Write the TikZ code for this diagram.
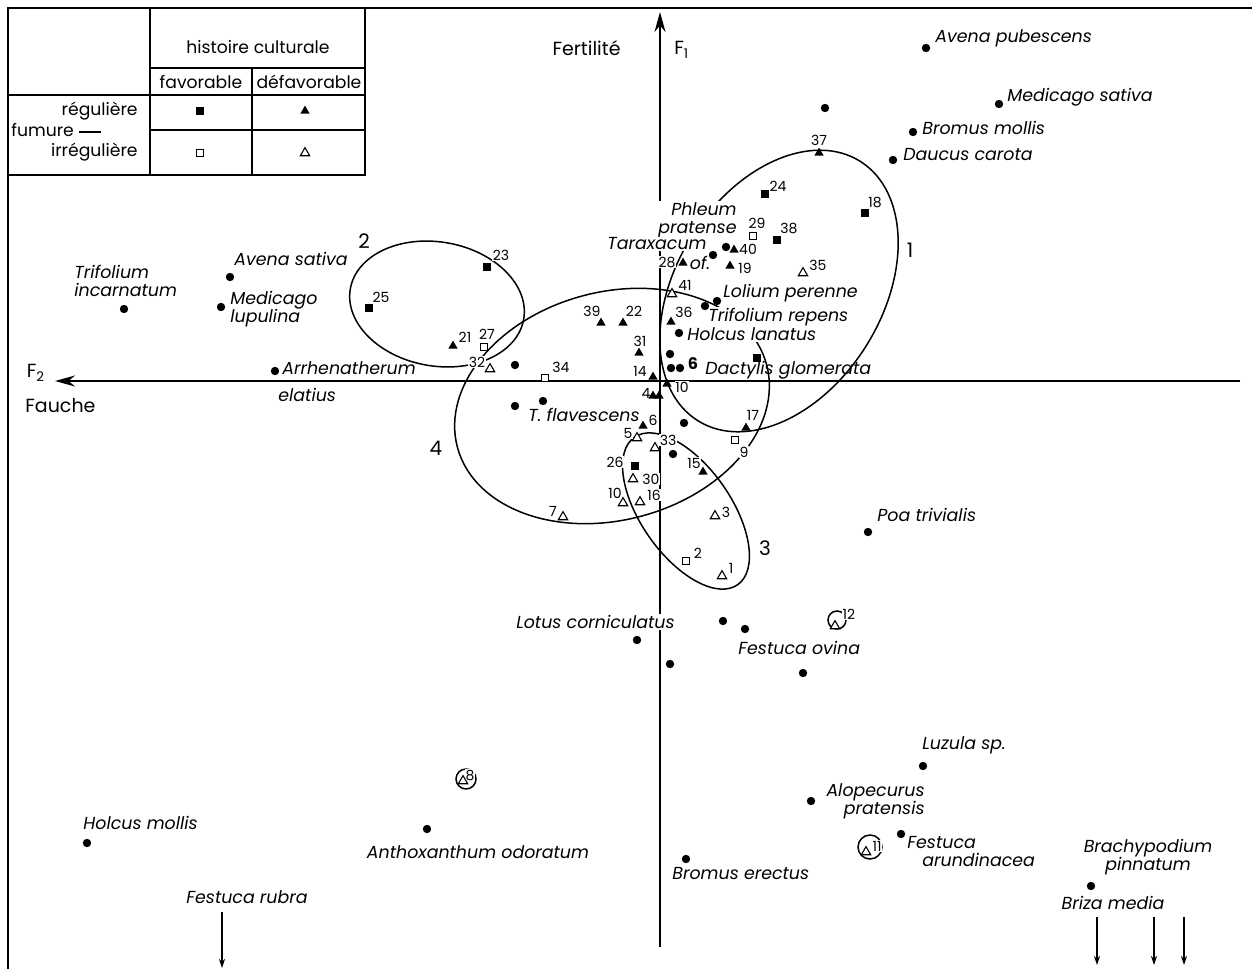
\documentclass[tikz,border=0pt]{standalone}
\usepackage{fontspec}
\setmainfont{Poppins}
\usetikzlibrary{arrows.meta,shapes,backgrounds,positioning}

\begin{document}
\begin{tikzpicture}[x=0.5pt,y=-0.5pt,>={Stealth[length=10pt,width=5.5pt]}]
  \tikzstyle{pt}=[circle,fill=black,inner sep=0pt,minimum size=4.2pt]
  \tikzstyle{sq}=[rectangle,fill=black,inner sep=0pt,minimum size=3.8pt]
  \tikzstyle{osq}=[rectangle,draw=black,line width=0.55pt,fill=white,inner sep=0pt,minimum size=3.6pt]
  \tikzstyle{tri}=[regular polygon,regular polygon sides=3,fill=black,inner sep=0pt,minimum size=5.4pt]
  \tikzstyle{otri}=[regular polygon,regular polygon sides=3,draw=black,line width=0.55pt,fill=white,inner sep=0pt,minimum size=5.4pt]
  \tikzstyle{num}=[font=\fontsize{7}{7}\selectfont,fill=white,inner sep=0.3pt]
  \tikzstyle{sp}=[font=\fontsize{8.7}{9}\selectfont\itshape,fill=white,inner sep=0.5pt]
  \tikzstyle{spclear}=[font=\fontsize{8.7}{9}\selectfont\itshape,inner sep=0.5pt]
  \tikzstyle{txt}=[font=\fontsize{8.6}{10}\selectfont,inner sep=0.5pt]
  \tikzstyle{grp}=[font=\fontsize{10}{11}\selectfont,inner sep=0.5pt]
  \tikzstyle{axis}=[line width=1pt,->]
  \tikzstyle{ring}=[line width=0.75pt]
  \tikzstyle{tab}=[line width=0.75pt]
  \tikzstyle{down}=[line width=0.8pt,-{Stealth[length=4.5pt,width=3pt]}]

  \useasboundingbox (0,0) rectangle (1252,969);

  % frame and table
  \coordinate (frtr) at (1252,8);
  \coordinate (frbl) at (8,969);
  \draw[tab] (frtr) -| (frbl);
  \coordinate (ttl) at (8,8);
  \coordinate (tbr) at (365,175);
  \draw[tab] (ttl) rectangle (tbr);
  \draw[tab] (150,8) -- (150,175);
  \draw[tab] (252,68) -- (252,175);
  \draw[tab] (150,68) -- (365,68);
  \draw[tab] (8,95) -- (365,95);
  \draw[tab] (150,130) -- (365,130);
  \draw[tab] (79,132) -- (101,132);
  \node[txt] (histoire) at (258,47) {histoire culturale};
  \node[txt] (fav) at (201,82) {favorable};
  \node[txt] (defav) at (309,82) {défavorable};
  \node[txt,anchor=east] (reg) at (139,111) {régulière};
  \node[txt,anchor=west] (fum) at (10,130) {fumure};
  \node[txt,anchor=east] (irreg) at (139,152) {irrégulière};
  \node[sq] (keysq) at (200,111) {};
  \node[tri] (keytri) at (305,111) {};
  \node[osq] (keyosq) at (200,153) {};
  \node[otri] (keyotri) at (305,153) {};

  % axes
  \coordinate (f1bot) at (660,947);
  \coordinate (f1top) at (660,12);
  \coordinate (f2right) at (1240,381);
  \coordinate (f2left) at (55,381);
  \node[txt,anchor=east,font=\fontsize{9.5}{10}\selectfont] (fert) at (622,48) {Fertilité};
  \node[txt,anchor=west,font=\fontsize{9.5}{10}\selectfont] (fone) at (673,50) {F\textsubscript{1}};
  \node[txt,font=\fontsize{9.5}{10}\selectfont] (ftwo) at (36,373) {F\textsubscript{2}};
  \node[txt,anchor=west,font=\fontsize{9.5}{10}\selectfont] (fauche) at (24,406) {Fauche};

  % species
  \node[sp,anchor=west] (avpub) at (934,38) {Avena pubescens};
  \node[sp,anchor=west] (medsat) at (1006,97) {Medicago sativa};
  \node[sp,anchor=west] (brmol) at (921,128) {Bromus mollis};
  \node[sp,anchor=west] (daucar) at (902,155) {Daucus carota};
  \node[sp,anchor=east,align=right] (phleum) at (738,220) {Phleum\\pratense};
  \node[sp] (tarax) at (657,244) {Taraxacum};
  \node[sp] (taraxof) at (700,263) {of.};
  \node[sp,anchor=west] (lolium) at (722,293) {Lolium perenne};
  \node[sp,anchor=west] (trirep) at (707,317) {Trifolium repens};
  \node[sp,anchor=west] (holcla) at (686,334) {Holcus lanatus};
  \node[spclear,anchor=west] (dactyl) at (704,370) {Dactylis glomerata};
  \node[sp,anchor=west] (tflav) at (527,415) {T. flavescens};
  \node[spclear,anchor=west] (arrhen) at (281,368) {Arrhenatherum};
  \node[spclear,anchor=west] (arrhenb) at (277,395) {elatius};
  \node[sp,anchor=west,align=left] (trinc) at (73,281) {Trifolium\\incarnatum};
  \node[sp,anchor=west] (avsat) at (233,259) {Avena sativa};
  \node[sp,anchor=west,align=left] (medlup) at (229,309) {Medicago\\lupulina};
  \node[sp,anchor=west] (poa) at (876,515) {Poa trivialis};
  \node[sp,anchor=east] (lotus) at (676,622) {Lotus corniculatus};
  \node[sp,anchor=west] (festov) at (737,648) {Festuca ovina};
  \node[sp,anchor=west] (luzula) at (921,745) {Luzula sp.};
  \node[sp,anchor=east,align=right] (alop) at (926,801) {Alopecurus\\pratensis};
  \node[sp,anchor=west] (festar) at (906,843) {Festuca};
  \node[sp,anchor=west] (festarb) at (921,860) {arundinacea};
  \node[sp,align=center] (brachy) at (1148,857) {Brachypodium\\pinnatum};
  \node[sp] (briza) at (1113,903) {Briza media};
  \node[sp,anchor=west] (bromer) at (671,874) {Bromus erectus};
  \node[sp,anchor=west] (holcmol) at (82,823) {Holcus mollis};
  \node[sp] (anthox) at (478,852) {Anthoxanthum odoratum};
  \node[sp] (festrub) at (247,897) {Festuca rubra};

  % group numbers
  \node[grp] (grpone) at (910,250) {1};
  \node[grp] (grptwo) at (364,241) {2};
  \node[grp] (grpthree) at (765,548) {3};
  \node[grp] (grpfour) at (436,448) {4};

  % site numbers
  \node[num] (n37) at (819,140) {37};
  \node[num] (n40) at (748,249) {40};
  \node[num] (n28) at (667,262) {28};
  \node[num] (n19) at (745,268) {19};
  \node[num] (n36) at (684,312) {36};
  \node[num] (n39) at (592,311) {39};
  \node[num] (n22) at (634,311) {22};
  \node[num] (n31) at (640,341) {31};
  \node[num] (n14) at (640,371) {14};
  \node[num] (n10) at (682,387) {10};
  \node[num] (n4) at (646,393) {4};
  \node[num] (n21) at (465,337) {21};
  \node[num] (n6) at (653,420) {6};
  \node[num] (n15) at (694,463) {15};
  \node[num] (n17) at (753,415) {17};
  \node[num] (n24) at (778,186) {24};
  \node[num] (n18) at (875,202) {18};
  \node[num] (n38) at (789,228) {38};
  \node[num] (n23) at (501,255) {23};
  \node[num] (n25) at (381,297) {25};
  \node[num] (n26) at (615,462) {26};
  \node[num] (n29) at (757,223) {29};
  \node[num] (n27) at (487,334) {27};
  \node[num] (n34) at (561,367) {34};
  \node[num] (n9) at (744,452) {9};
  \node[num] (n2) at (698,553) {2};
  \node[num] (n35) at (818,265) {35};
  \node[num] (n41) at (685,285) {41};
  \node[num] (n32) at (477,362) {32};
  \node[num] (n5) at (628,433) {5};
  \node[num] (n33) at (668,440) {33};
  \node[num] (n30) at (651,479) {30};
  \node[num] (n10b) at (615,493) {10};
  \node[num] (n16) at (654,495) {16};
  \node[num] (n7) at (553,511) {7};
  \node[num] (n3) at (726,512) {3};
  \node[num] (n1) at (731,568) {1};
  \node[num] (n12) at (849,614) {12};
  \node[num] (n11) at (877,846) {11};
  \node[num] (n8) at (470,775) {8};
  \node[font=\fontsize{8}{8}\selectfont\bfseries,inner sep=0pt] (six) at (693,364) {6};

  % species dots
  \node[pt] (pavpub) at (926,48) {};
  \node[pt] (pmedsat) at (999,104) {};
  \node[pt] (pbrmol) at (913,132) {};
  \node[pt] (pdaucar) at (893,160) {};
  \node[pt] (ptop) at (825,108) {};
  \node[pt] (pphleum) at (726,247) {};
  \node[pt] (ptarax) at (713,255) {};
  \node[pt] (plolium) at (717,301) {};
  \node[pt] (ptrirep) at (705,306) {};
  \node[pt] (pholcla) at (679,333) {};
  \node[pt] (pa) at (670,354) {};
  \node[pt] (pb) at (671,368) {};
  \node[pt] (pc) at (680,368) {};
  \node[pt] (pd) at (515,365) {};
  \node[pt] (ptflav) at (543,401) {};
  \node[pt] (pe) at (515,406) {};
  \node[pt] (pf) at (684,423) {};
  \node[pt] (pg) at (673,454) {};
  \node[pt] (parrhen) at (275,371) {};
  \node[pt] (ptrinc) at (124,309) {};
  \node[pt] (pavsat) at (230,277) {};
  \node[pt] (pmedlup) at (221,307) {};
  \node[pt] (ppoa) at (868,532) {};
  \node[pt] (plotus) at (637,640) {};
  \node[pt] (ph) at (723,621) {};
  \node[pt] (pfestov) at (745,629) {};
  \node[pt] (pi) at (670,664) {};
  \node[pt] (pj) at (803,673) {};
  \node[pt] (pluzula) at (923,766) {};
  \node[pt] (palop) at (811,801) {};
  \node[pt] (pfestar) at (901,834) {};
  \node[pt] (pbrachy) at (1091,886) {};
  \node[pt] (pbromer) at (686,859) {};
  \node[pt] (pholcmol) at (87,843) {};
  \node[pt] (panthox) at (427,829) {};

  % sites
  \node[sq] (s24) at (765,194) {};
  \node[sq] (s18) at (865,213) {};
  \node[sq] (s38) at (777,240) {};
  \node[sq] (s23) at (487,267) {};
  \node[sq] (s25) at (369,308) {};
  \node[sq] (s26) at (635,466) {};
  \node[sq] (sx) at (757,358) {};
  \node[osq] (o29) at (753,236) {};
  \node[osq] (o27) at (484,347) {};
  \node[osq] (o34) at (545,378) {};
  \node[osq] (o9) at (735,440) {};
  \node[osq] (o2) at (686,561) {};
  \node[tri] (t37) at (819,153) {};
  \node[tri] (t40) at (734,250) {};
  \node[tri] (t28) at (683,263) {};
  \node[tri] (t19) at (730,266) {};
  \node[tri] (t36) at (671,322) {};
  \node[tri] (t39) at (601,323) {};
  \node[tri] (t22) at (623,323) {};
  \node[tri] (t31) at (639,353) {};
  \node[tri] (t14) at (653,377) {};
  \node[tri] (t10) at (667,384) {};
  \node[tri] (t4a) at (653,396) {};
  \node[tri] (t4b) at (659,396) {};
  \node[tri] (t21) at (453,346) {};
  \node[tri] (t6) at (643,426) {};
  \node[tri] (t15) at (703,472) {};
  \node[tri] (t17) at (746,428) {};
  \node[otri] (u35) at (803,273) {};
  \node[otri] (u41) at (672,294) {};
  \node[otri] (u32) at (490,369) {};
  \node[otri] (u5) at (637,438) {};
  \node[otri] (u33) at (655,448) {};
  \node[otri] (u30) at (633,479) {};
  \node[otri] (u10) at (623,503) {};
  \node[otri] (u16) at (640,502) {};
  \node[otri] (u7) at (563,517) {};
  \node[otri] (u3) at (715,516) {};
  \node[otri] (u1) at (722,576) {};
  \node[otri] (u12) at (835,626) {};
  \node[otri] (u11) at (866,852) {};
  \node[otri] (u8) at (463,781) {};

  % arrows leaving the plane
  \coordinate (frtop) at (222,912);
  \coordinate (frbot) at (222,968);
  \draw[down] (frtop) -- (frbot);
  \foreach \x/\n in {1097/a,1154/b,1184/c}{
    \coordinate (bt\n) at (\x,917);
    \coordinate (bb\n) at (\x,965);
    \draw[down] (bt\n) -- (bb\n);
  }

  \begin{pgfonlayer}{background}
    \draw[axis] (f1bot) -- (f1top);
    \draw[axis] (f2right) -- (f2left);
    \draw[ring,rotate around={58:(779,291)}] (779,291) ellipse [x radius=153,y radius=103];
    \draw[ring,rotate around={-10:(437,304)}] (437,304) ellipse [x radius=88,y radius=62];
    \draw[ring,rotate around={-55:(686,511)}] (686,511) ellipse [x radius=90,y radius=45];
    \draw[ring,rotate around={15:(612,406)}] (612,406) ellipse [x radius=160,y radius=114];
    \draw[ring] (u12) ++(2,-6) circle [radius=9];
    \draw[ring] (u11) ++(4,-5) circle [radius=12];
    \draw[ring] (u8) ++(3,-2) circle [radius=10];
  \end{pgfonlayer}
\end{tikzpicture}
\end{document}
